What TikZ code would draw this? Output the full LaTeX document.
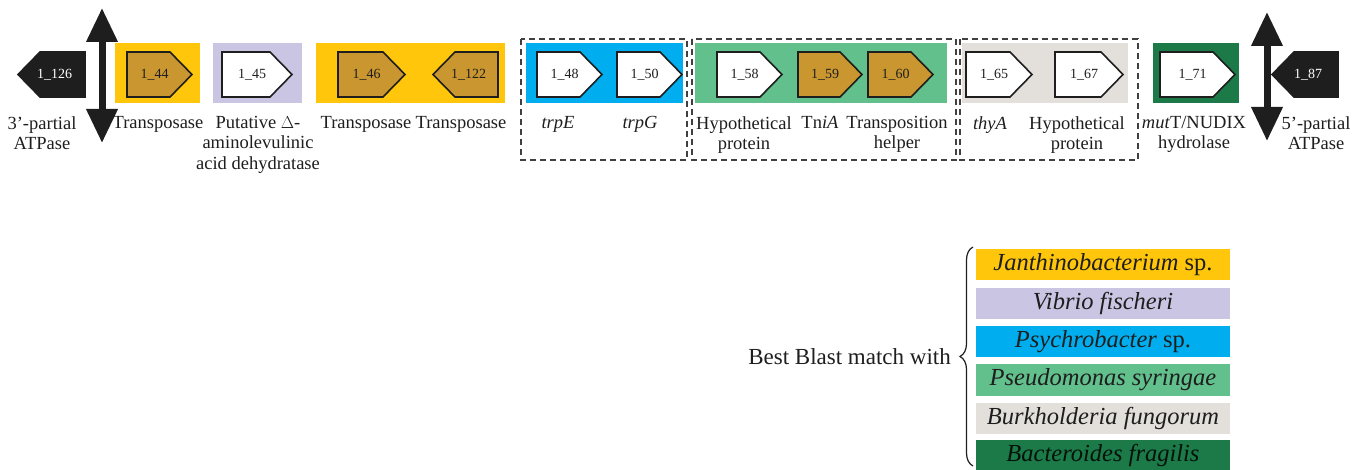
\documentclass[tikz,border=0pt]{standalone}
\usepackage{fontspec}
\setmainfont{Liberation Serif}
\usetikzlibrary{arrows.meta,decorations.pathreplacing}
\definecolor{cYellow}{HTML}{FFC60B}
\definecolor{cLav}{HTML}{C9C5E3}
\definecolor{cBlue}{HTML}{00AEEF}
\definecolor{cGreen}{HTML}{62C08D}
\definecolor{cGray}{HTML}{E3DFDB}
\definecolor{cDark}{HTML}{1B7A47}
\definecolor{cBrown}{HTML}{C9962F}
\definecolor{cInk}{HTML}{1E1E1E}
% forward gene: name, left x, tip x, fill, id text
\newcommand\fwdgene[5]{%
  \draw[genebox, fill=#4] (#2,52) -- (#3-22,52) -- (#3,74.5) -- (#3-22,97) -- (#2,97) -- cycle;
  \node[geneid] (#1) at ({(#2+#3)/2-5},74.5) {#5};}
% reverse gene: name, tip x, right x, fill, id text (text colour as extra style)
\newcommand\revgene[6]{%
  \draw[genebox, fill=#4] (#3,52) -- (#2+22,52) -- (#2,74.5) -- (#2+22,97) -- (#3,97) -- cycle;
  \node[geneid, #6] (#1) at ({(#2+#3)/2+3},74.5) {#5};}
\begin{document}
\begin{tikzpicture}[x=1pt,y=-1pt,
  genebox/.style={draw=cInk, line width=1.6pt, line join=miter},
  geneid/.style={inner sep=0pt, font=\fontsize{14}{16}\selectfont, text=cInk},
  lbl/.style={anchor=north, align=center, inner sep=0pt,
    font=\fontsize{18.5}{20.5}\selectfont, text=cInk},
  grpbox/.style={draw=cInk!85, line width=1.8pt, dash pattern=on 6pt off 4pt},
  bound/.style={line width=7pt, cInk,
    {Triangle[length=34pt,width=30pt]}-{Triangle[length=34pt,width=30pt]}},
  leg/.style={minimum width=254pt, minimum height=31pt, inner sep=0pt,
    font=\fontsize{24.5}{27}\selectfont, text=cInk}]
\useasboundingbox (0,0) rectangle (1366,470);

% coloured background blocks of the gene cluster
\fill[cYellow] (115,43) rectangle (200,103);
\fill[cLav]    (213,43) rectangle (302,103);
\fill[cYellow] (316,43) rectangle (505,103);
\fill[cBlue]   (526,43) rectangle (683,103);
\fill[cGreen]  (695,43) rectangle (947,103);
\fill[cGray]   (962,43) rectangle (1128,103);
\fill[cDark]   (1153,43) rectangle (1239,103);

% dashed operon frames
\draw[grpbox] (521,39) rectangle (687,160);
\draw[grpbox] (692,39) rectangle (956,160);
\draw[grpbox] (960,39) rectangle (1138,160);

% genes
\revgene{g126}{18}{85}{cInk}{1\_126}{text=white}
\fwdgene{g44}{127}{192}{cBrown}{1\_44}
\fwdgene{g45}{222}{292}{white}{1\_45}
\fwdgene{g46}{338}{405}{cBrown}{1\_46}
\revgene{g122}{433}{498}{cBrown}{1\_122}{}
\fwdgene{g48}{537}{602}{white}{1\_48}
\fwdgene{g50}{617}{682}{white}{1\_50}
\fwdgene{g58}{717}{782}{white}{1\_58}
\fwdgene{g59}{798}{862}{cBrown}{1\_59}
\fwdgene{g60}{868}{933}{cBrown}{1\_60}
\fwdgene{g65}{966}{1032}{white}{1\_65}
\fwdgene{g67}{1055}{1123}{white}{1\_67}
\fwdgene{g71}{1160}{1235}{white}{1\_71}
\revgene{g87}{1272}{1338}{cInk}{1\_87}{text=white}

% insertion boundaries
\coordinate (bL1) at (102,8);   \coordinate (bL2) at (102,143);
\coordinate (bR1) at (1267,12); \coordinate (bR2) at (1267,141);
\draw[bound] (bL1) -- (bL2);
\draw[bound] (bR1) -- (bR2);

% gene annotations
\node[lbl] (a126) at (42,116) {3’-partial\\ATPase};
\node[lbl] (a44)  at (158,116) {Transposase};
\node[lbl] (a45)  at (258,116) {Putative $\Delta$-\\aminolevulinic\\acid dehydratase};
\node[lbl] (a46)  at (366,116) {Transposase};
\node[lbl] (a122) at (461,116) {Transposase};
\node[lbl] (a48)  at (558,116) {\textit{trpE}};
\node[lbl] (a50)  at (640,116) {\textit{trpG}};
\node[lbl] (a58)  at (744,116) {Hypothetical\\protein};
\node[lbl] (a59)  at (820,116) {Tn\textit{iA}};
\node[lbl] (a60)  at (897,116) {Transposition\\helper};
\node[lbl] (a65)  at (990,116) {\textit{thyA}};
\node[lbl] (a67)  at (1077,116) {Hypothetical\\protein};
\node[lbl] (a71)  at (1194,116) {\textit{mut}T/NUDIX\\hydrolase};
\node[lbl] (a87)  at (1316,116) {5’-partial\\ATPase};

% legend
\node[leg, fill=cYellow] (lJ) at (1103,264.5) {\textit{Janthinobacterium} sp.};
\node[leg, fill=cLav]    (lV) at (1103,303.5) {\textit{Vibrio fischeri}};
\node[leg, fill=cBlue]   (lP) at (1103,342)   {\textit{Psychrobacter} sp.};
\node[leg, fill=cGreen]  (lS) at (1103,380)   {\textit{Pseudomonas syringae}};
\node[leg, fill=cGray]   (lB) at (1103,418)   {\textit{Burkholderia fungorum}};
\node[leg, fill=cDark, text=black!85!cDark] (lF) at (1103,455.5) {\textit{Bacteroides fragilis}};
\coordinate (brTop) at (973,247);
\coordinate (brBot) at (973,466);
\draw[cInk, line width=1.2pt, decorate, decoration={brace, amplitude=13pt}] (brBot) -- (brTop);
\node[anchor=east, inner sep=0pt, font=\fontsize{23}{26}\selectfont, text=cInk] (best) at (951,357) {Best Blast match with};
\end{tikzpicture}
\end{document}
